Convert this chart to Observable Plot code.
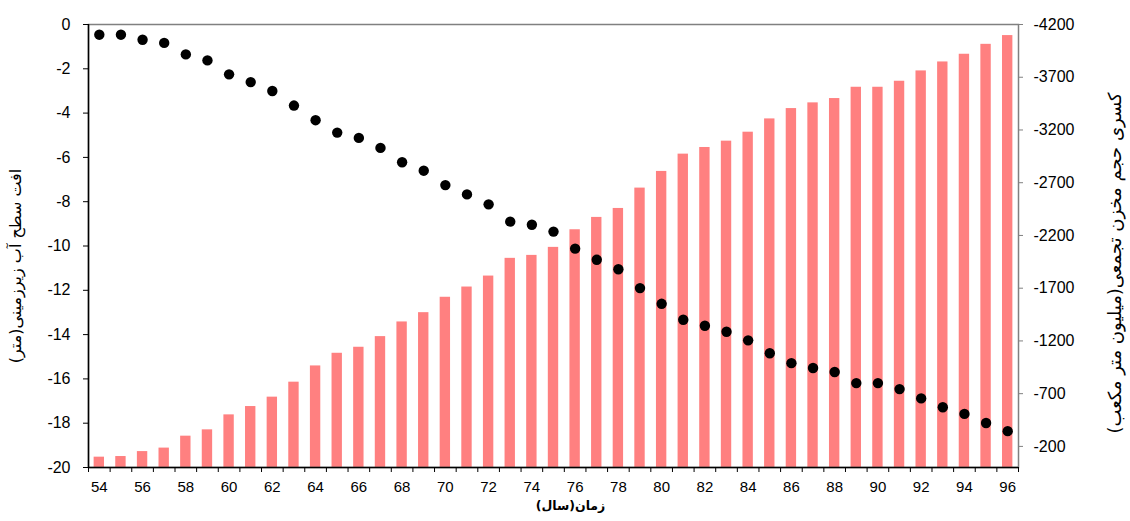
<!DOCTYPE html>
<html><head><meta charset="utf-8">
<script src="https://cdn.jsdelivr.net/npm/d3@7"></script>
<script src="https://cdn.jsdelivr.net/npm/@observablehq/plot@0.6"></script>
<style>
body{margin:0;background:#fff;}
#chart svg{display:block;}
</style>
</head><body><div id="chart"></div>
<script>
const years = [54,55,56,57,58,59,60,61,62,63,64,65,66,67,68,69,70,71,72,73,74,75,76,77,78,79,80,81,82,83,84,85,86,87,88,89,90,91,92,93,94,95,96];
// groundwater level drop (m), left axis
const drawdown = [-0.46,-0.46,-0.69,-0.83,-1.35,-1.62,-2.25,-2.6,-3.0,-3.66,-4.32,-4.88,-5.12,-5.57,-6.22,-6.6,-7.25,-7.67,-8.12,-8.9,-9.04,-9.35,-10.12,-10.62,-11.05,-11.9,-12.61,-13.33,-13.6,-13.87,-14.26,-14.84,-15.29,-15.51,-15.69,-16.19,-16.19,-16.46,-16.88,-17.28,-17.58,-17.99,-18.36];
// cumulative storage deficit (million m3), right axis
const deficit = [-98,-104,-151,-184,-297,-357,-499,-578,-667,-809,-963,-1083,-1140,-1241,-1380,-1468,-1614,-1711,-1815,-1983,-2011,-2087,-2254,-2371,-2456,-2649,-2807,-2971,-3034,-3094,-3179,-3305,-3403,-3457,-3498,-3605,-3605,-3662,-3760,-3845,-3918,-4012,-4095];
const leftTicks = [0,-2,-4,-6,-8,-10,-12,-14,-16,-18,-20];
const rightTicks = [-200,-700,-1200,-1700,-2200,-2700,-3200,-3700,-4200];
const xLabelTicks = [54,56,58,60,62,64,66,68,70,72,74,76,78,80,82,84,86,88,90,92,94,96];
const leftTitle = "افت سطح آب زیرزمینی(متر)";
const rightTitle = "کسری حجم مخزن تجمعی(میلیون متر مکعب)";
const xTitle = "زمان(سال)";

const k = 4200 / 20; // right-axis units per left-axis unit
const toLeft = v => -20 - v / k;   // right value -> left axis position
const data = years.map((y, i) => ({year: y, drawdown: drawdown[i], deficit: deficit[i]}));
const boundaries = years.map(y => y - 0.5).concat([years[years.length - 1] + 0.5]);

const chart = Plot.plot({
  width: 1130, height: 521,
  marginLeft: 88, marginRight: 112, marginTop: 24, marginBottom: 54,
  style: {fontFamily: "'Liberation Sans', Arial, 'DejaVu Sans', sans-serif", fontSize: "16px", color: "#000", background: "#fff"},
  x: {type: "linear", domain: [years[0] - 0.5, years[years.length - 1] + 0.5]},
  y: {domain: [-20, 0]},
  marks: [
    Plot.rectY(data, {x1: d => d.year - 0.24, x2: d => d.year + 0.24, y1: -20, y2: d => toLeft(d.deficit), fill: "#ff8080"}),
    Plot.dot(data, {x: "year", y: "drawdown", r: 5.2, fill: "#000", stroke: "none"}),
    Plot.frame({stroke: "#808080", strokeWidth: 1.5}),
    Plot.ruleX([years[0] - 0.5], {stroke: "#000", strokeWidth: 1.5}),
    Plot.ruleY([-20], {stroke: "#000", strokeWidth: 1.5}),
    Plot.axisY(leftTicks, {anchor: "left", tickSize: 5, tickPadding: 13, tickFormat: d => String(d), label: null, fontSize: 16}),
    Plot.axisY(rightTicks.map(toLeft), {anchor: "right", tickSize: 4, tickPadding: 11, stroke: "#808080", tickFormat: d => String(Math.round(-(d + 20) * k)), label: null, fontSize: 16}),
    Plot.axisX(boundaries, {anchor: "bottom", tickSize: 5, tickFormat: () => "", label: null}),
    Plot.axisX(xLabelTicks, {anchor: "bottom", tickSize: 0, tickPadding: 14, tickFormat: d => String(d), label: null, fontSize: 15}),
    Plot.text([leftTitle], {frameAnchor: "left", textAnchor: "middle", dx: -73, dy: 20, rotate: -90, fontSize: 16, fill: "#000", fontFamily: "'DejaVu Sans', sans-serif"}),
    Plot.text([rightTitle], {frameAnchor: "right", textAnchor: "middle", dx: 97, dy: 17, rotate: -90, fontSize: 18, fill: "#000", fontFamily: "'DejaVu Sans', sans-serif"}),
    Plot.text([xTitle], {frameAnchor: "bottom", textAnchor: "middle", dx: 17, dy: 42, fontSize: 12.5, fontWeight: "bold", fill: "#000", fontFamily: "'DejaVu Sans', sans-serif"})
  ]
});
document.getElementById("chart").append(chart);
</script>
</body></html>
